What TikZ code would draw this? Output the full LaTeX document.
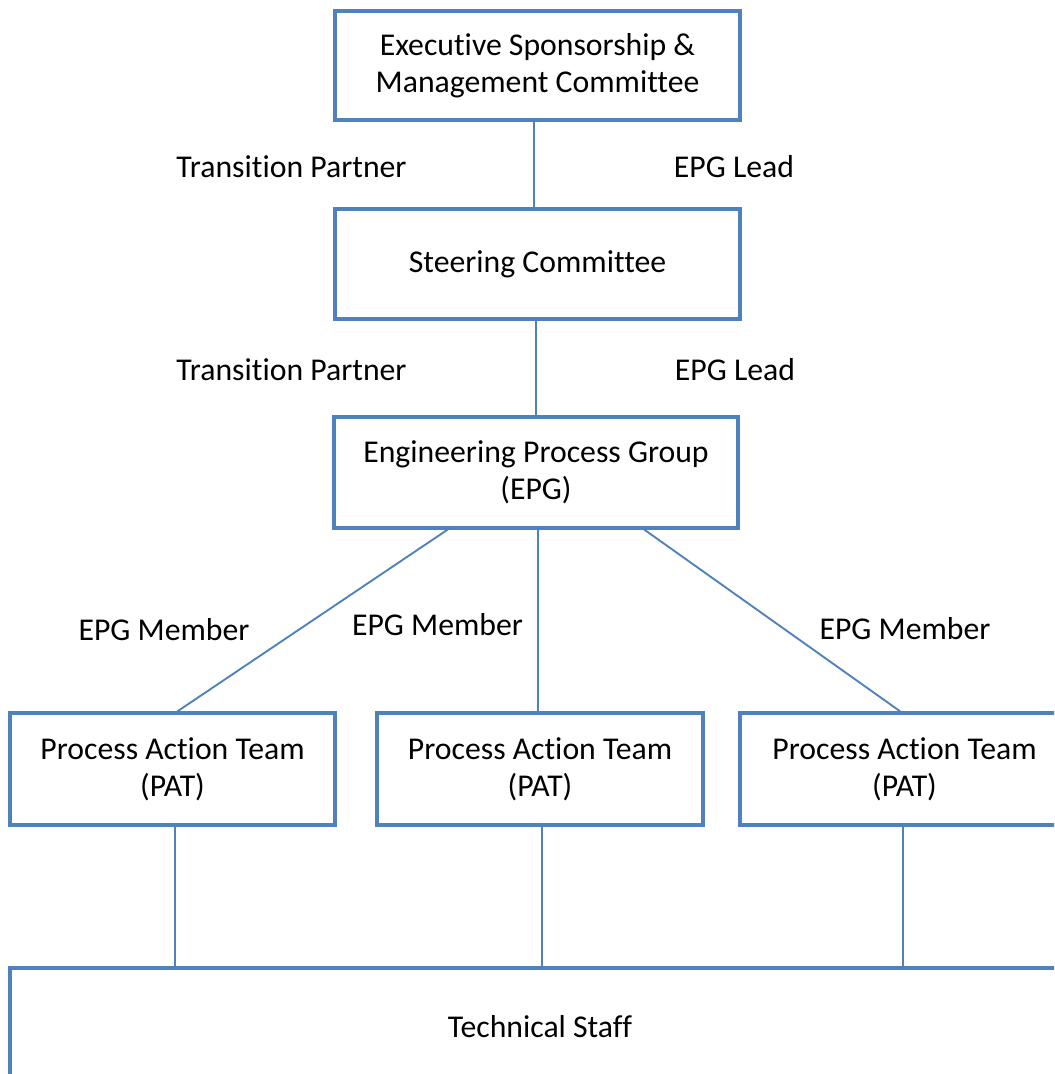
\documentclass[tikz,border=0pt]{standalone}
\usepackage{fontspec}
\setmainfont[Ligatures={NoCommon}]{Carlito}
\usetikzlibrary{calc}
\definecolor{boxblue}{HTML}{4F81BD}
\newdimen\px \px=0.75pt
\tikzset{
  orgbox/.style={draw=boxblue, line width=2.3pt, inner sep=0pt, outer sep=0pt,
    align=center, font=\fontsize{23.8}{27.75}\selectfont},
  rolelabel/.style={anchor=base, inner sep=0pt, font=\fontsize{23.8}{27.75}\selectfont},
  link/.style={draw=boxblue, line width=1.4pt}
}
\begin{document}
\begin{tikzpicture}[x=0.75pt, y=-0.75pt]
\useasboundingbox[fill=white] (0,0) rectangle (1054,1074);
\clip (0,0) rectangle (1054,1074);
% boxes
\node[orgbox, minimum width=405\px, minimum height=109\px] (exec) at (537.5,65.5)
  {Executive Sponsorship \&\\Management Committee};
\node[orgbox, minimum width=405\px, minimum height=110\px] (steer) at (537.5,264)
  {Steering Committee};
\node[orgbox, minimum width=404\px, minimum height=111\px] (epg) at (536,472.5)
  {Engineering Process Group\\(EPG)};
\node[orgbox, minimum width=325\px, minimum height=112\px] (pat1) at (172.5,769)
  {Process Action Team\\(PAT)};
\node[orgbox, minimum width=326\px, minimum height=112\px] (pat2) at (540,769)
  {Process Action Team\\(PAT)};
\node[orgbox, minimum width=329\px, minimum height=112\px] (pat3) at (904.5,769)
  {Process Action Team\\(PAT)};
\node[orgbox, minimum width=1060\px, minimum height=118\px] (tech) at (540,1027)
  {Technical Staff};
% labels
\node[rolelabel] (tp1) at (291.5,177) {Transition Partner};
\node[rolelabel] (lead1) at (734,177) {EPG Lead};
\node[rolelabel] (tp2) at (291.5,380) {Transition Partner};
\node[rolelabel] (lead2) at (735,380) {EPG Lead};
\node[rolelabel] (mem1) at (164,640) {EPG Member};
\node[rolelabel] (mem2) at (437.5,635) {EPG Member};
\node[rolelabel] (mem3) at (905,639) {EPG Member};
% connectors
\draw[link] ($(exec.south)+(-3.5,0)$) -- ($(steer.north)+(-3.5,0)$);
\draw[link] ($(steer.south)+(-1.5,0)$) -- (epg.north);
\draw[link] ($(epg.south)+(-86,0)$) -- ($(pat1.north)+(2.5,0)$);
\draw[link] ($(epg.south)+(2,0)$) -- ($(pat2.north)+(-2,0)$);
\draw[link] ($(epg.south)+(106,0)$) -- ($(pat3.north)+(-2,0)$);
\draw[link] ($(pat1.south)+(2.5,0)$) -- ($(pat1.south |- tech.north)+(2.5,0)$);
\draw[link] ($(pat2.south)+(2,0)$) -- ($(pat2.south |- tech.north)+(2,0)$);
\draw[link] ($(pat3.south)+(-1.5,0)$) -- ($(pat3.south |- tech.north)+(-1.5,0)$);
\end{tikzpicture}
\end{document}
